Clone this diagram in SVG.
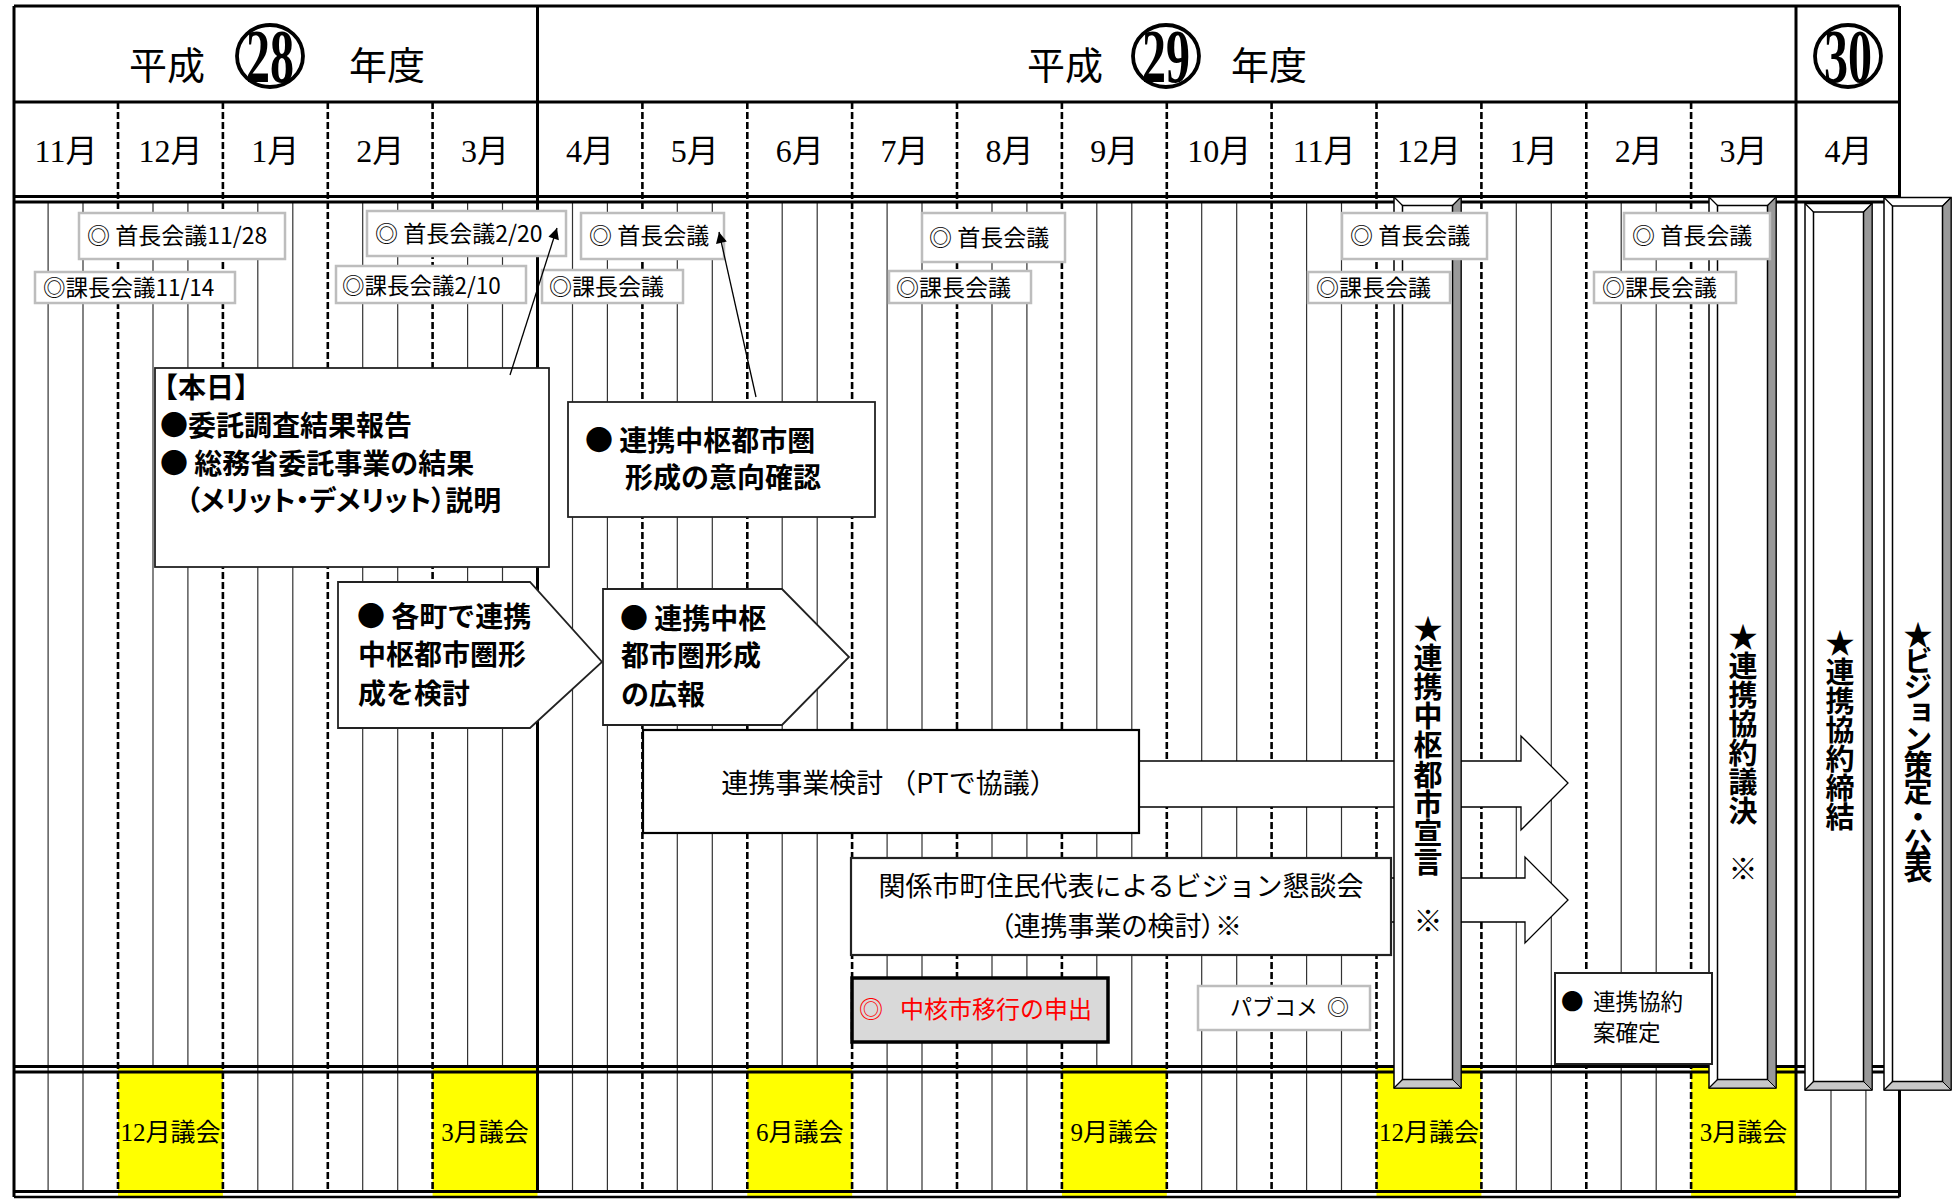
<svg xmlns="http://www.w3.org/2000/svg" width="1955" height="1200" viewBox="0 0 1955 1200">
<defs>
<style>
.ser{font-family:"Liberation Serif","Noto Sans CJK JP",serif;fill:#000}
.sans{font-family:"Noto Sans CJK JP","Noto Sans",sans-serif;fill:#000}
.b{font-weight:bold}
.thin{stroke:#333;stroke-width:1.2;fill:none}
.dash{stroke:#000;stroke-width:2.6;stroke-dasharray:7 3;fill:none}
.solid{stroke:#000;stroke-width:3;fill:none}
.mtg{fill:#fff;stroke:#bdbdbd;stroke-width:2.5}
.box{fill:#fff;stroke:#222;stroke-width:1.8}
.blk{fill:#fff;stroke:#000;stroke-width:1.3}
.yel{fill:#ffff00}
.vt{writing-mode:vertical-rl;text-orientation:upright;font-family:"Noto Sans CJK JP",sans-serif;font-weight:bold;font-size:29px}
.bev-o{fill:#fff;stroke:#000;stroke-width:1.5}
.bev-r{fill:#999;stroke:#000;stroke-width:1}
.bev-b{fill:#c8c8c8;stroke:#000;stroke-width:1}
.bev-i{fill:#fff;stroke:#000;stroke-width:1.5}
.cn{stroke:#000;stroke-width:1.3;fill:none}
</style>
<marker id="ah" viewBox="0 0 10 10" refX="10" refY="5" markerWidth="15" markerHeight="11" markerUnits="userSpaceOnUse" orient="auto">
<path d="M0,0 L10,5 L0,10 z" fill="#000"/>
</marker>
</defs>
<rect x="0" y="0" width="1955" height="1200" fill="#fff"/>

<g id="grid">
<path class="thin" d="M48.1 202V1192M83 202V1192M153 202V1192M187.9 202V1192M257.8 202V1192M292.8 202V1192M362.7 202V1192M397.7 202V1192M467.6 202V1192M502.5 202V1192M572.5 202V1192M607.4 202V1192M677.3 202V1192M712.3 202V1192M782.2 202V1192M817.2 202V1192M887.1 202V1192M922 202V1192M992 202V1192M1026.9 202V1192M1096.8 202V1192M1131.8 202V1192M1201.7 202V1192M1236.7 202V1192M1306.6 202V1192M1341.5 202V1192M1411.5 202V1192M1446.4 202V1192M1516.3 202V1192M1551.3 202V1192M1621.2 202V1192M1656.2 202V1192M1726.1 202V1192M1761 202V1192M1831 202V1192M1865.9 202V1192"/>
<rect class="yel" x="118" y="1067" width="104.9" height="130"/>
<rect class="yel" x="432.6" y="1067" width="104.9" height="130"/>
<rect class="yel" x="747.3" y="1067" width="104.9" height="130"/>
<rect class="yel" x="1061.9" y="1067" width="104.9" height="130"/>
<rect class="yel" x="1376.5" y="1067" width="104.9" height="130"/>
<rect class="yel" x="1691.1" y="1067" width="104.9" height="130"/>
<path class="dash" d="M118 102V1192M222.9 102V1192M327.8 102V1192M432.6 102V1192M642.4 102V1192M747.3 102V1192M852.1 102V1192M957 102V1192M1061.9 102V1192M1166.8 102V1192M1271.6 102V1192M1376.5 102V1192M1481.4 102V1192M1586.3 102V1192M1691.1 102V1192"/>
<path class="solid" d="M14 6H1899.5M14 102H1899.5M14 196.5H1899.5M14 202H1899.5M14 1066.5H1899.5M14 1072H1899.5M14 1191.5H1899.5M14 6V1197M1899.5 6V1197M537.5 6V1192M1796 6V1192"/>
<path d="M14 1197H1899.5" stroke="#000" stroke-width="2.5"/>
</g>

<g id="header">
<text class="sans" x="167" y="79" font-size="38" text-anchor="middle">平成</text>
<ellipse cx="270" cy="56" rx="33" ry="31" fill="none" stroke="#000" stroke-width="3.8"/>
<text class="ser b" x="270" y="82" font-size="76" text-anchor="middle" textLength="48" lengthAdjust="spacingAndGlyphs">28</text>
<text class="sans" x="387" y="79" font-size="38" text-anchor="middle">年度</text>
<text class="sans" x="1065" y="79" font-size="38" text-anchor="middle">平成</text>
<ellipse cx="1166" cy="56" rx="33" ry="31" fill="none" stroke="#000" stroke-width="3.8"/>
<text class="ser b" x="1166" y="82" font-size="76" text-anchor="middle" textLength="48" lengthAdjust="spacingAndGlyphs">29</text>
<text class="sans" x="1269" y="79" font-size="38" text-anchor="middle">年度</text>
<ellipse cx="1848" cy="56" rx="33" ry="31" fill="none" stroke="#000" stroke-width="3.8"/>
<text class="ser b" x="1848" y="82" font-size="76" text-anchor="middle" textLength="48" lengthAdjust="spacingAndGlyphs">30</text>
<g class="ser" font-size="32" text-anchor="middle">
<text x="66" y="162">11月</text>
<text x="170.4" y="162">12月</text>
<text x="275.3" y="162">1月</text>
<text x="380.2" y="162">2月</text>
<text x="485.1" y="162">3月</text>
<text x="589.9" y="162">4月</text>
<text x="694.8" y="162">5月</text>
<text x="799.7" y="162">6月</text>
<text x="904.6" y="162">7月</text>
<text x="1009.4" y="162">8月</text>
<text x="1114.3" y="162">9月</text>
<text x="1219.2" y="162">10月</text>
<text x="1324.1" y="162">11月</text>
<text x="1428.9" y="162">12月</text>
<text x="1533.8" y="162">1月</text>
<text x="1638.7" y="162">2月</text>
<text x="1743.6" y="162">3月</text>
<text x="1848.4" y="162">4月</text>
</g>
<g class="ser" font-size="25" text-anchor="middle">
<text x="170.4" y="1141">12月議会</text>
<text x="485.1" y="1141">3月議会</text>
<text x="799.7" y="1141">6月議会</text>
<text x="1114.3" y="1141">9月議会</text>
<text x="1428.9" y="1141">12月議会</text>
<text x="1743.6" y="1141">3月議会</text>
</g>
</g>

<g id="arrow-renkei-jigyo">
<polygon class="blk" points="1139,761 1521,761 1521,736 1568,783 1521,830 1521,807 1139,807"/>
</g>
<g id="arrow-kondankai">
<polygon class="blk" points="1391,878 1525,878 1525,857 1568,900 1525,943 1525,922 1391,922"/>
</g>

<g id="banner-sengen">
<rect class="bev-o" x="1394" y="197" width="67" height="891"/>
<polygon class="bev-r" points="1461,197 1461,1088 1452.5,1079.5 1452.5,205.5"/>
<polygon class="bev-b" points="1394,1088 1461,1088 1452.5,1079.5 1402.5,1079.5"/>
<rect class="bev-i" x="1402.5" y="205.5" width="50" height="874"/>
<path class="cn" d="M1394 197L1402.5 205.5M1461 197L1452.5 205.5M1394 1088L1402.5 1079.5"/>
<text class="vt" x="1428" y="614" letter-spacing="0.2">★連携中枢都市宣言　※</text>
</g>
<g id="banner-giketsu">
<rect class="bev-o" x="1709" y="197" width="67" height="891"/>
<polygon class="bev-r" points="1776,197 1776,1088 1767.5,1079.5 1767.5,205.5"/>
<polygon class="bev-b" points="1709,1088 1776,1088 1767.5,1079.5 1717.5,1079.5"/>
<rect class="bev-i" x="1717.5" y="205.5" width="50" height="874"/>
<path class="cn" d="M1709 197L1717.5 205.5M1776 197L1767.5 205.5M1709 1088L1717.5 1079.5"/>
<text class="vt" x="1743" y="622">★連携協約議決　※</text>
</g>
<g id="banner-teiketsu">
<rect class="bev-o" x="1805" y="203.5" width="67" height="886.5"/>
<polygon class="bev-r" points="1872,203.5 1872,1090 1863.5,1081.5 1863.5,212"/>
<polygon class="bev-b" points="1805,1090 1872,1090 1863.5,1081.5 1813.5,1081.5"/>
<rect class="bev-i" x="1813.5" y="212" width="50" height="869.5"/>
<path class="cn" d="M1805 203.5L1813.5 212M1872 203.5L1863.5 212M1805 1090L1813.5 1081.5"/>
<text class="vt" x="1840" y="628">★連携協約締結</text>
</g>
<g id="banner-vision">
<rect class="bev-o" x="1884" y="197.5" width="67" height="892.5"/>
<polygon class="bev-r" points="1951,197.5 1951,1090 1942.5,1081.5 1942.5,206"/>
<polygon class="bev-b" points="1884,1090 1951,1090 1942.5,1081.5 1892.5,1081.5"/>
<rect class="bev-i" x="1892.5" y="206" width="50" height="875.5"/>
<path class="cn" d="M1884 197.5L1892.5 206M1951 197.5L1942.5 206M1884 1090L1892.5 1081.5"/>
<text class="vt" x="1918" y="620" letter-spacing="-3">★ビジョン策定・公表</text>
</g>

<g id="mtg-shucho-1128"><rect class="mtg" x="79" y="213" width="206" height="46"/><text class="sans" x="87" y="244" font-size="23">◎ 首長会議11/28</text></g>
<g id="mtg-kacho-1114"><rect class="mtg" x="35" y="272" width="200" height="31"/><text class="sans" x="43" y="296" font-size="22.5">◎課長会議11/14</text></g>
<g id="mtg-shucho-0220"><rect class="mtg" x="367" y="211" width="199" height="45"/><text class="sans" x="375" y="242" font-size="23">◎ 首長会議2/20</text></g>
<g id="mtg-kacho-0210"><rect class="mtg" x="336" y="266" width="190" height="37"/><text class="sans" x="342" y="294" font-size="22.5">◎課長会議2/10</text></g>
<g id="mtg-shucho-apr"><rect class="mtg" x="581" y="213" width="143" height="46"/><text class="sans" x="589" y="244" font-size="23">◎ 首長会議</text></g>
<g id="mtg-kacho-apr"><rect class="mtg" x="542" y="270" width="141" height="33"/><text class="sans" x="549" y="295" font-size="23">◎課長会議</text></g>
<g id="mtg-shucho-aug"><rect class="mtg" x="922" y="213" width="143" height="49"/><text class="sans" x="929" y="246" font-size="23">◎ 首長会議</text></g>
<g id="mtg-kacho-jul"><rect class="mtg" x="889" y="271" width="142" height="32"/><text class="sans" x="896" y="296" font-size="23">◎課長会議</text></g>
<g id="mtg-shucho-dec"><rect class="mtg" x="1342" y="213" width="145" height="46"/><text class="sans" x="1350" y="244" font-size="23">◎ 首長会議</text></g>
<g id="mtg-kacho-nov"><rect class="mtg" x="1308" y="272" width="142" height="31"/><text class="sans" x="1316" y="296" font-size="23">◎課長会議</text></g>
<g id="mtg-shucho-mar"><rect class="mtg" x="1624" y="213" width="146" height="46"/><text class="sans" x="1632" y="244" font-size="23">◎ 首長会議</text></g>
<g id="mtg-kacho-feb"><rect class="mtg" x="1594" y="272" width="142" height="31"/><text class="sans" x="1602" y="296" font-size="23">◎課長会議</text></g>

<g id="honjitsu">
<rect class="box" x="155" y="368" width="394" height="199"/>
<g class="sans b" font-size="28">
<text x="150" y="398">【本日】</text>
<text x="160" y="436">●委託調査結果報告</text>
<text x="160" y="474">● 総務省委託事業の結果</text>
<text x="186" y="511" textLength="315" lengthAdjust="spacingAndGlyphs" style="font-feature-settings:'palt'">（メリット・デメリット）説明</text>
</g>
</g>
<g id="ikou-kakunin">
<rect class="box" x="568" y="402" width="307" height="115"/>
<g class="sans b" font-size="28">
<text x="585" y="451">● 連携中枢都市圏</text>
<text x="625" y="488">形成の意向確認</text>
</g>
</g>
<g id="kakucho-kento">
<polygon class="box" points="338,582 530,582 602,662 530,728 338,728"/>
<g class="sans b" font-size="28">
<text x="357" y="627">● 各町で連携</text>
<text x="358" y="665">中枢都市圏形</text>
<text x="358" y="704">成を検討</text>
</g>
</g>
<g id="kouhou">
<polygon class="box" points="603,589 782,589 849,657 782,725 603,725"/>
<g class="sans b" font-size="28">
<text x="620" y="629">● 連携中枢</text>
<text x="621" y="666">都市圏形成</text>
<text x="621" y="705">の広報</text>
</g>
</g>
<g id="renkei-jigyo">
<rect x="643" y="730" width="496" height="103" fill="#fff" stroke="#000" stroke-width="2.2"/>
<text class="sans" x="889" y="793" font-size="27" text-anchor="middle">連携事業検討 （PTで協議）</text>
</g>
<g id="kondankai">
<rect x="851" y="858" width="540" height="97" fill="#fff" stroke="#222" stroke-width="2.2"/>
<text class="sans" x="1121" y="896" font-size="27" text-anchor="middle">関係市町住民代表によるビジョン懇談会</text>
<text class="sans" x="1121" y="936" font-size="27" text-anchor="middle" style="font-feature-settings:'palt'">（連携事業の検討）※</text>
</g>
<g id="chukakushi">
<rect x="852" y="978" width="256" height="64" fill="#d9d9d9" stroke="#000" stroke-width="3.5"/>
<text class="sans" x="859" y="1018" font-size="24" style="fill:#ff0000">◎</text>
<text class="sans" x="900" y="1018" font-size="24" style="fill:#ff0000">中核市移行の申出</text>
</g>
<g id="pabukome">
<rect class="mtg" x="1198" y="986" width="172" height="44"/>
<text class="sans" x="1230" y="1015" font-size="22">パブコメ</text>
<text class="sans" x="1327" y="1015" font-size="22">◎</text>
</g>
<g id="kyoyaku-an">
<rect x="1555" y="973" width="157" height="91" fill="#fff" stroke="#222" stroke-width="2"/>
<text class="sans" x="1561" y="1010" font-size="22.5">●</text>
<text class="sans" x="1593" y="1010" font-size="22.5">連携協約</text>
<text class="sans" x="1593" y="1041" font-size="22.5">案確定</text>
</g>

<g id="connectors">
<line class="cn" x1="510" y1="375" x2="557" y2="228" marker-end="url(#ah)"/>
<line class="cn" x1="756" y1="397" x2="719" y2="232" marker-end="url(#ah)"/>
</g>
</svg>
